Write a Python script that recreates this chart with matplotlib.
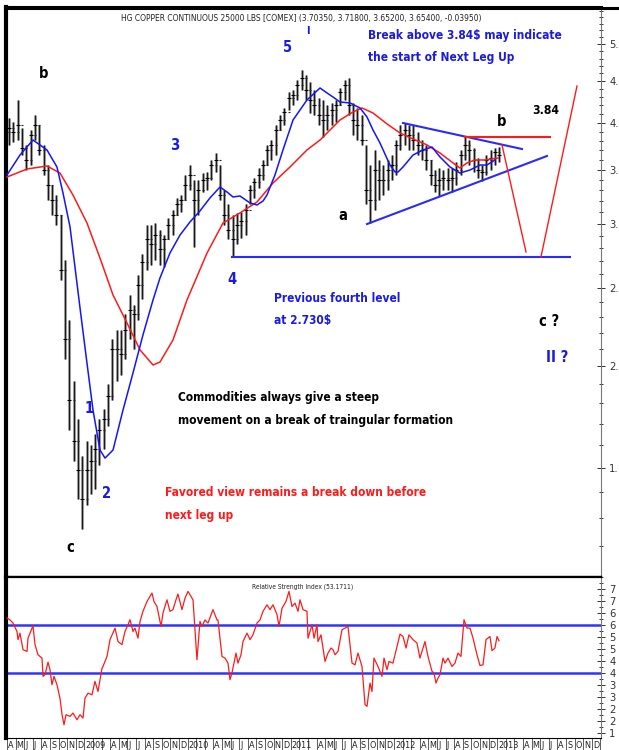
import os
import numpy as np
import matplotlib
matplotlib.use("Agg")
import matplotlib.pyplot as plt
from matplotlib import font_manager as fm
from matplotlib.ticker import FixedLocator, FixedFormatter, NullFormatter

# ---------------- data (time unit: months since 1 Apr 2008) ----------------
bar_high = [4.05, 4.01, 4.27, 3.94, 3.75, 3.92, 4.09, 3.97, 3.75, 3.55,
            3.35, 3.26, 3.08, 2.71, 2.28, 1.92, 1.72, 1.55, 1.62, 1.60,
            1.65, 1.72, 1.77, 1.90, 2.16, 2.22, 2.22, 2.32, 2.45, 2.38,
            2.59, 2.75, 2.99, 2.99, 3.01, 2.95, 2.91, 3.05, 3.12, 3.23,
            3.26, 3.45, 3.55, 3.40, 3.40, 3.47, 3.48, 3.60, 3.67, 3.55,
            3.30, 3.17, 3.08, 3.09, 3.10, 3.17, 3.35, 3.42, 3.52, 3.60,
            3.75, 3.81, 3.97, 4.09, 4.17, 4.36, 4.39, 4.52, 4.65, 4.58,
            4.49, 4.39, 4.29, 4.27, 4.21, 4.23, 4.27, 4.41, 4.52, 4.54,
            4.23, 4.17, 4.09, 3.75, 3.55, 3.70, 3.60, 3.55, 3.60, 3.65,
            3.81, 3.97, 4.00, 3.97, 3.97, 3.90, 3.81, 3.75, 3.60, 3.50,
            3.52, 3.50, 3.52, 3.52, 3.58, 3.70, 3.84, 3.81, 3.72, 3.62,
            3.55, 3.65, 3.70, 3.72, 3.73]
bar_low = [3.75, 3.79, 3.81, 3.65, 3.50, 3.55, 3.81, 3.65, 3.45, 3.21,
           3.08, 2.99, 2.56, 2.04, 1.67, 1.53, 1.37, 1.26, 1.35, 1.39,
           1.41, 1.51, 1.58, 1.69, 1.82, 1.92, 1.95, 2.04, 2.16, 2.10,
           2.28, 2.42, 2.63, 2.67, 2.71, 2.67, 2.65, 2.87, 2.91, 3.08,
           3.10, 3.21, 3.30, 2.81, 3.08, 3.28, 3.30, 3.40, 3.48, 3.21,
           2.99, 2.87, 2.73, 2.83, 2.88, 2.91, 3.17, 3.23, 3.32, 3.40,
           3.55, 3.60, 3.65, 3.92, 3.97, 4.15, 4.21, 4.27, 4.39, 4.27,
           4.11, 4.09, 3.97, 3.84, 3.92, 3.97, 4.01, 4.21, 4.27, 4.09,
           3.86, 3.81, 3.75, 3.17, 3.01, 3.12, 3.21, 3.26, 3.30, 3.40,
           3.45, 3.70, 3.75, 3.70, 3.70, 3.65, 3.60, 3.50, 3.35, 3.28,
           3.25, 3.30, 3.30, 3.28, 3.35, 3.45, 3.60, 3.55, 3.48, 3.42,
           3.39, 3.45, 3.50, 3.55, 3.58]
bar_close = [3.94, 3.90, 3.97, 3.72, 3.60, 3.86, 3.97, 3.70, 3.50, 3.35,
             3.21, 3.08, 2.63, 2.16, 1.82, 1.62, 1.49, 1.37, 1.49, 1.53,
             1.58, 1.67, 1.72, 1.84, 2.10, 2.10, 2.07, 2.22, 2.35, 2.32,
             2.52, 2.69, 2.87, 2.83, 2.91, 2.79, 2.87, 2.99, 3.08, 3.17,
             3.21, 3.35, 3.45, 3.21, 3.30, 3.40, 3.42, 3.55, 3.60, 3.26,
             3.08, 2.95, 2.87, 2.99, 3.02, 3.12, 3.30, 3.38, 3.45, 3.55,
             3.70, 3.75, 3.92, 4.03, 4.12, 4.29, 4.33, 4.45, 4.54, 4.39,
             4.27, 4.21, 4.09, 4.03, 4.09, 4.15, 4.21, 4.36, 4.45, 4.21,
             4.03, 3.97, 3.81, 3.30, 3.21, 3.50, 3.40, 3.40, 3.50, 3.55,
             3.75, 3.86, 3.92, 3.86, 3.81, 3.75, 3.70, 3.60, 3.45, 3.35,
             3.40, 3.42, 3.40, 3.42, 3.50, 3.65, 3.75, 3.70, 3.60, 3.50,
             3.48, 3.60, 3.62, 3.68, 3.65]
first_open = 3.90
bar_t = np.arange(len(bar_close)) * 0.5 + 0.25   # half-month bars

ma_fast_t = [0.0, 1.51, 3.02, 4.65, 5.81, 6.51, 7.33, 8.49, 9.30, 10.0, 10.81, 11.40,
             12.33, 13.49, 14.65, 15.81, 16.98, 17.79, 18.95, 20.12, 21.28, 22.44,
             23.60, 24.77, 25.58, 26.28, 27.09, 28.26, 29.07, 29.77, 30.23, 31.16,
             32.09, 33.26, 34.07, 34.88, 36.40, 37.21, 37.91, 38.72, 39.88, 41.05,
             41.86, 42.56, 43.37, 44.53, 45.12, 45.47, 46.05, 47.21, 48.37, 49.42,
             50.35, 51.51, 52.67, 53.84, 55.0, 55.81, 56.74]
ma_fast = [3.447, 3.648, 3.807, 3.701, 3.526, 3.275, 2.973, 2.362, 2.019, 1.767, 1.577,
           1.541, 1.577, 1.767, 1.963, 2.187, 2.416, 2.572, 2.761, 2.906, 3.016, 3.112,
           3.229, 3.331, 3.284, 3.238, 3.247, 3.183, 3.165, 3.201, 3.256, 3.447, 3.701,
           4.030, 4.146, 4.266, 4.414, 4.352, 4.302, 4.242, 4.230, 4.170, 4.065, 3.917,
           3.775, 3.546, 3.476, 3.476, 3.526, 3.648, 3.701, 3.732, 3.628, 3.526, 3.466,
           3.496, 3.546, 3.546, 3.597]

ma_slow_t = [0.0, 2.33, 4.65, 6.16, 7.67, 9.30, 10.81, 12.33, 13.95, 15.47, 16.98, 17.79,
             19.30, 20.93, 23.26, 25.12, 27.09, 29.07, 30.93, 32.91, 34.88, 36.40, 38.72,
             40.23, 41.28, 42.56, 44.19, 45.70, 47.21, 48.84, 50.35, 51.86, 52.67, 53.49,
             54.42, 55.58, 57.09]
ma_slow = [3.427, 3.506, 3.536, 3.466, 3.256, 3.007, 2.722, 2.450, 2.263, 2.096, 2.008,
           2.025, 2.156, 2.416, 2.761, 3.007, 3.094, 3.192, 3.369, 3.526, 3.701, 3.807,
           4.030, 4.123, 4.170, 4.111, 3.985, 3.884, 3.818, 3.754, 3.669, 3.567, 3.516,
           3.567, 3.597, 3.597, 3.617]

rsi_t = [0.0, 0.35, 0.70, 1.16, 1.28, 1.51, 1.86, 2.33, 2.44, 3.02, 3.26, 3.60, 4.07, 4.19,
         4.42, 4.77, 5.0, 5.23, 5.47, 5.81, 6.16, 6.40, 6.63, 6.86, 7.33, 7.67, 8.14, 8.49,
         8.84, 9.07, 9.42, 9.88, 10.23, 10.58, 11.05, 11.16, 11.63, 11.98, 12.56, 12.91,
         13.37, 13.72, 14.07, 14.30, 14.65, 14.88, 15.23, 15.47, 15.81, 16.28, 16.86, 17.09,
         17.44, 17.91, 18.14, 18.60, 18.95, 19.30, 19.65, 19.88, 20.35, 20.70, 21.05, 21.63,
         22.09, 22.44, 22.67, 23.02, 23.37, 23.95, 24.42, 24.53, 25.0, 25.35, 25.70, 25.93,
         26.16, 26.63, 26.86, 27.21, 27.44, 27.91, 28.26, 28.60, 29.07, 29.42, 29.77, 30.23,
         30.58, 30.93, 31.40, 31.63, 31.98, 32.44, 32.79, 33.14, 33.49, 33.84, 34.07, 34.42,
         34.88, 35.0, 35.47, 35.70, 36.05, 36.16, 36.51, 36.98, 37.33, 37.67, 37.91, 38.14,
         38.49, 38.95, 39.30, 39.65, 40.12, 40.47, 40.81, 41.28, 41.63, 41.86, 42.21, 42.44,
         42.67, 43.14, 43.60, 43.84, 44.19, 44.42, 44.88, 45.35, 45.70, 46.05, 46.40, 46.74,
         47.21, 47.67, 48.02, 48.60, 48.95, 49.42, 49.65, 49.88, 50.12, 50.35, 50.70, 50.93,
         51.28, 51.74, 52.09, 52.44, 52.79, 53.14, 53.49, 53.84, 54.19, 54.65, 55.0, 55.35,
         55.70, 56.16, 56.40, 56.74, 56.98, 57.21]
rsi = [62.8, 62.0, 60.7, 57.2, 53.8, 56.5, 49.6, 48.9, 54.4, 59.6, 51.7, 47.5, 46.1, 38.5,
       39.2, 44.4, 41.3, 35.0, 38.5, 35.0, 29.4, 22.5, 18.3, 22.5, 21.8, 23.2, 20.4, 22.5,
       21.1, 29.4, 31.5, 30.8, 36.4, 32.2, 41.9, 42.6, 46.8, 53.8, 58.6, 53.0, 51.7, 57.2,
       60.0, 62.1, 57.2, 58.6, 54.4, 61.4, 65.6, 69.7, 73.2, 69.7, 67.6, 59.3, 64.9, 70.4,
       65.6, 66.3, 70.4, 72.8, 66.3, 71.1, 73.9, 70.4, 45.4, 61.4, 59.3, 62.0, 60.7, 66.3,
       62.0, 62.0, 46.8, 46.1, 44.0, 37.1, 39.9, 48.2, 44.0, 47.5, 53.0, 56.5, 53.8, 55.8,
       60.7, 62.0, 65.6, 68.3, 66.3, 68.3, 64.2, 59.3, 66.9, 69.7, 73.9, 67.6, 69.0, 65.6,
       70.4, 66.3, 65.6, 54.4, 60.0, 54.4, 60.0, 53.0, 55.8, 44.7, 48.2, 50.3, 49.6, 47.5,
       48.9, 57.9, 58.6, 59.3, 44.0, 43.3, 48.2, 42.6, 26.7, 26.0, 35.7, 32.2, 46.1, 42.6,
       38.5, 46.1, 41.3, 44.7, 44.0, 51.0, 56.1, 55.1, 50.3, 55.8, 53.8, 52.4, 46.1, 53.0,
       46.8, 40.6, 39.9, 35.7, 37.8, 39.2, 46.1, 44.0, 46.1, 42.6, 44.0, 48.2, 46.8, 62.1,
       58.6, 58.6, 54.4, 47.5, 43.0, 43.3, 53.8, 55.1, 49.2, 50.3, 55.1, 53.3]
rsi_levels = [60, 40]

# annotation geometry (time, price)
support_t, support_p = [26.16, 65.47], [2.73, 2.73]
tri_upper_t, tri_upper_p = [46.05, 59.88], [3.996, 3.711]
tri_lower_t, tri_lower_p = [41.86, 62.79], [2.998, 3.638]
resist_t, resist_p = [53.26, 63.14], [3.84, 3.84]
proj_down_t, proj_down_p = [57.56, 60.35], [3.754, 2.769]
proj_up_t, proj_up_p = [62.09, 66.28], [2.730, 4.439]

price_ticks = [1.5, 2.0, 2.5, 3.0, 3.5, 4.0, 4.5, 5.0]
price_tick_labels = ["1.", "2.", "2.", "3.", "3.", "4.", "4.", "5."]
rsi_ticks = [15, 20, 25, 30, 35, 40, 45, 50, 55, 60, 65, 70, 75]
rsi_tick_labels = ["1", "2", "2", "3", "3", "4", "4", "5", "5", "6", "6", "7", "7"]
month_labels = (["A", "M", "J", "J", "A", "S", "O", "N", "D"] +
                ["2009", "", "", "A", "M", "J", "J", "A", "S", "O", "N", "D"] +
                ["2010", "", "", "A", "M", "J", "J", "A", "S", "O", "N", "D"] +
                ["2011", "", "", "A", "M", "J", "J", "A", "S", "O", "N", "D"] +
                ["2012", "", "", "A", "M", "J", "J", "A", "S", "O", "N", "D"] +
                ["2013", "", "", "A", "M", "J", "J", "A", "S", "O", "N", "D"])

# ---------------- fonts: look for any narrow / condensed sans face ----------------
FAMILY_PREF = ["liberation", "arial", "dejavu", "noto", "roboto", "open", "lato", "inter"]

def _weight(w):
    if isinstance(w, str):
        return {"bold": 700, "normal": 400, "regular": 400, "medium": 500,
                "semibold": 600, "light": 300}.get(w.lower(), 400)
    return int(w)

def find_narrow(bold):
    cands = []
    for f in fm.fontManager.ttflist:
        fn = os.path.basename(f.fname).lower()
        st = str(f.stretch).lower()
        narrow = ("narrow" in fn or "condensed" in fn or
                  st in ("condensed", "semi-condensed", "extra-condensed"))
        if not narrow or "italic" in fn or "oblique" in fn or "mono" in fn or "serif" in fn.replace("sans", ""):
            continue
        w = _weight(f.weight)
        if bold and not (600 <= w <= 800):
            continue
        if (not bold) and not (380 <= w <= 500):
            continue
        rank = len(FAMILY_PREF)
        for i, k in enumerate(FAMILY_PREF):
            if k in fn:
                rank = i
                break
        cands.append((rank, fn, f.fname))
    if not cands:
        return None
    cands.sort()
    return fm.FontProperties(fname=cands[0][2])

REG_N = find_narrow(False)
BOLD_N = find_narrow(True)
REG = REG_N if REG_N is not None else fm.FontProperties(family="Liberation Sans")
BOLD = BOLD_N if BOLD_N is not None else fm.FontProperties(family="Liberation Sans", weight="bold")

def fp(base, size):
    f = base.copy()
    f.set_size(size)
    return f

BLUE_TXT = "#1a1ae6"
BLUE_LN = "#2a2aff"
RED = "#ff1a1a"

W, H = 619, 750
fig = plt.figure(figsize=(W / 100, H / 100), dpi=100)
fig.patch.set_facecolor("white")
fig.canvas.draw()
RENDERER = fig.canvas.get_renderer()

def fit_size(base, text, target_px, size0=10.0):
    t = fig.text(0, 0, text, fontproperties=fp(base, size0))
    w = t.get_window_extent(renderer=RENDERER).width
    t.remove()
    return size0 * target_px / w

def fx(x):
    return x / W

def fy(y):
    return 1 - y / H

ax = fig.add_axes([fx(6), fy(577), 595 / W, 570 / H])
ax2 = fig.add_axes([fx(6), fy(738), 595 / W, 161 / H])
XLIM = (-0.116, 69.07)

S_TITLE = fit_size(REG, "HG COPPER CONTINUOUS 25000 LBS [COMEX] (3.70350, 3.71800, 3.65200, 3.65400, -0.03950)", 363)
S_RSI = 1.1 * fit_size(REG, "Relative Strength Index (53.1711)", 93)
S_BIG = min(fit_size(BOLD, "3.84", 27), 12.5)
S_WAVE = min(1.2 * S_BIG, 13.0)
S_MID = min(1.15 * fit_size(BOLD, "Break above 3.84$ may indicate", 167), 12.0)
S_MONTH = 6.5
S_TICK = 8.0

# ---------------- price panel ----------------
opens = [first_open] + bar_close[:-1]
ax.set_yscale("log")
ax.vlines(bar_t, bar_low, bar_high, color="#9c9c9c", lw=2.2, zorder=2)
ax.vlines(bar_t, bar_low, bar_high, color="black", lw=0.6, zorder=3)
ax.plot(bar_t, bar_close, ls="none", marker="_", ms=3.0, mew=0.8, color="black", zorder=3)
ax.plot(bar_t, opens, ls="none", marker="_", ms=2.0, mew=0.8, color="#222222", zorder=3)

ax.plot(ma_slow_t, ma_slow, color=RED, lw=1.1, zorder=4)
ax.plot(ma_fast_t, ma_fast, color="#1414ff", lw=1.1, zorder=4)

ax.plot(support_t, support_p, color=BLUE_LN, lw=1.5, zorder=5)
ax.plot(tri_upper_t, tri_upper_p, color=BLUE_LN, lw=1.5, zorder=5)
ax.plot(tri_lower_t, tri_lower_p, color=BLUE_LN, lw=1.5, zorder=5)
ax.plot(resist_t, resist_p, color=RED, lw=1.5, zorder=5)
ax.plot(proj_down_t, proj_down_p, color=RED, lw=1.0, zorder=5)
ax.plot(proj_up_t, proj_up_p, color=RED, lw=1.0, zorder=5)

ax.set_xlim(*XLIM)
ax.set_ylim(1.099, 5.557)
ax.yaxis.tick_right()
ax.yaxis.set_major_locator(FixedLocator(price_ticks))
ax.yaxis.set_major_formatter(FixedFormatter(price_tick_labels))
ax.yaxis.set_minor_locator(FixedLocator(np.round(np.arange(1.1, 5.6, 0.1), 2)))
ax.yaxis.set_minor_formatter(NullFormatter())
ax.tick_params(axis="y", which="major", direction="inout", length=6, width=0.7,
               pad=3, colors="#333333")
ax.tick_params(axis="y", which="minor", direction="inout", length=3, width=0.7,
               colors="#333333")
for lab in ax.get_yticklabels():
    lab.set_fontproperties(fp(REG, S_TICK))
ax.set_xticks([])

# ---------------- RSI panel ----------------
ax2.plot(rsi_t, rsi, color=RED, lw=0.9, zorder=3)
for lv in rsi_levels:
    ax2.axhline(lv, color="#3333ff", lw=1.8, zorder=2)
ax2.set_xlim(*XLIM)
ax2.set_ylim(12.8, 79.9)
ax2.yaxis.tick_right()
ax2.yaxis.set_major_locator(FixedLocator(rsi_ticks))
ax2.yaxis.set_major_formatter(FixedFormatter(rsi_tick_labels))
ax2.yaxis.set_minor_locator(FixedLocator(np.arange(12.5, 80, 2.5)))
ax2.yaxis.set_minor_formatter(NullFormatter())
ax2.tick_params(axis="y", which="major", direction="inout", length=6, width=0.7,
                pad=3, colors="#333333")
ax2.tick_params(axis="y", which="minor", direction="inout", length=3, width=0.7,
                colors="#333333")
for lab in ax2.get_yticklabels():
    lab.set_fontproperties(fp(REG, S_TICK))
month_ticks = np.arange(0, len(month_labels) + 1)
ax2.set_xticks(month_ticks)
ax2.set_xticklabels([])
ax2.tick_params(axis="x", direction="out", length=9, width=0.6, colors="#444444")
for m, lab in enumerate(month_labels):
    ax2.text(m + 0.12, -0.045, lab, transform=ax2.get_xaxis_transform(),
             ha="left", va="center", fontproperties=fp(REG, S_MONTH),
             color="#222222", clip_on=False)

for a in (ax, ax2):
    a.set_facecolor("white")
    a.spines["left"].set_linewidth(3.0)
    a.spines["left"].set_color("black")
    a.spines["right"].set_linewidth(0.8)
    a.spines["right"].set_color("#777777")
    a.spines["bottom"].set_color("black")
ax.spines["top"].set_linewidth(2.2)
ax.spines["bottom"].set_linewidth(1.6)
ax2.spines["top"].set_linewidth(1.6)
ax2.spines["bottom"].set_linewidth(0.8)
fig.add_artist(plt.Line2D([fx(5), 1.0], [fy(7.5), fy(7.5)], color="black", lw=2.2))

# ---------------- texts (figure pixel positions) ----------------
def ptext(x, y, s, **kw):
    kw.setdefault("va", "center")
    fig.text(fx(x), fy(y), s, **kw)

ptext(301, 18, "HG COPPER CONTINUOUS 25000 LBS [COMEX] (3.70350, 3.71800, 3.65200, 3.65400, -0.03950)",
      ha="center", fontproperties=fp(REG, S_TITLE), color="#222222")
ptext(308, 31, "I", ha="center", fontproperties=fp(BOLD, 8), color=BLUE_TXT)
ptext(303, 587, "Relative Strength Index (53.1711)", ha="center",
      fontproperties=fp(REG, S_RSI), color="#222222")

for (x, y, s, c) in [(288, 48, "5", BLUE_TXT), (44, 73, "b", "black"), (175, 146, "3", BLUE_TXT),
                     (232, 280, "4", BLUE_TXT), (89, 408, "1", BLUE_TXT), (107, 494, "2", BLUE_TXT),
                     (70, 548, "c", "black"), (343, 215, "a", "black"), (502, 121, "b", "black"),
                     (549, 322, "c ?", "black"), (557, 357, "II ?", BLUE_TXT)]:
    ptext(x, y, s, ha="center", fontproperties=fp(BOLD, S_WAVE), color=c)
ptext(546, 110, "3.84", ha="center", fontproperties=fp(BOLD, S_BIG), color="black")

for (x, y, s, c) in [(368, 36, "Break above 3.84$ may indicate", BLUE_TXT),
                     (368, 58, "the start of Next Leg Up", BLUE_TXT),
                     (274, 298, "Previous fourth level", BLUE_TXT),
                     (274, 321, "at 2.730$", BLUE_TXT),
                     (178, 398, "Commodities always give a steep", "black"),
                     (178, 420, "movement on a break of traingular formation", "black"),
                     (165, 493, "Favored view remains a break down before", RED),
                     (165, 515, "next leg up", RED)]:
    ptext(x, y, s, ha="left", fontproperties=fp(BOLD, S_MID), color=c)

fig.savefig("out.png", dpi=100, facecolor="white")
